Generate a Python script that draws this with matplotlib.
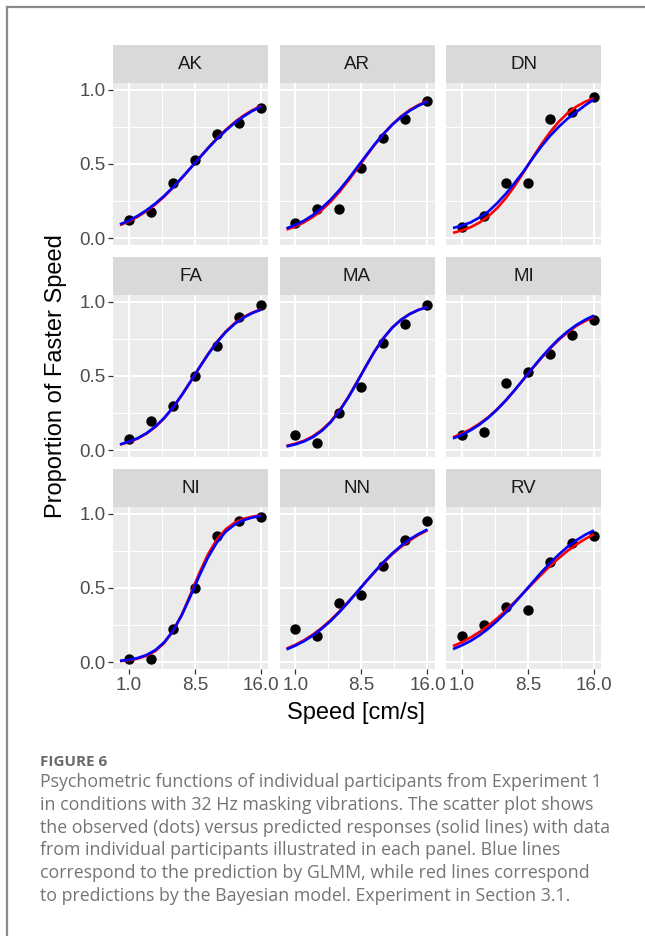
import numpy as np
import matplotlib
matplotlib.use("Agg")
import matplotlib.pyplot as plt
from matplotlib.lines import Line2D

# --- data ---
participants = ["AK", "AR", "DN", "FA", "MA", "MI", "NI", "NN", "RV"]
speeds = [1.0, 3.5, 6.0, 8.5, 11.0, 13.5, 16.0]
curve_speeds = [0, 1, 2, 3, 4, 5, 6, 7, 8, 9, 10, 11, 12, 13, 14, 15, 16]

observed = [
    [0.125, 0.175, 0.375, 0.525, 0.700, 0.775, 0.875],  # AK
    [0.100, 0.200, 0.200, 0.475, 0.675, 0.800, 0.925],  # AR
    [0.075, 0.150, 0.375, 0.375, 0.800, 0.850, 0.950],  # DN
    [0.075, 0.200, 0.300, 0.500, 0.700, 0.900, 0.975],  # FA
    [0.100, 0.050, 0.250, 0.425, 0.725, 0.850, 0.975],  # MA
    [0.100, 0.125, 0.450, 0.525, 0.650, 0.775, 0.875],  # MI
    [0.025, 0.025, 0.225, 0.500, 0.850, 0.950, 0.975],  # NI
    [0.225, 0.175, 0.400, 0.450, 0.650, 0.825, 0.950],  # NN
    [0.175, 0.250, 0.375, 0.350, 0.675, 0.800, 0.850],  # RV
]

# GLMM prediction (blue)
glmm_pred = [
    [0.094, 0.119, 0.151, 0.189, 0.234, 0.285, 0.343, 0.407, 0.473, 0.540, 0.606, 0.669, 0.725, 0.776, 0.819, 0.856, 0.886],
    [0.067, 0.090, 0.119, 0.157, 0.204, 0.260, 0.325, 0.398, 0.476, 0.555, 0.632, 0.702, 0.764, 0.816, 0.859, 0.893, 0.920],
    [0.069, 0.086, 0.107, 0.140, 0.180, 0.236, 0.300, 0.373, 0.450, 0.535, 0.616, 0.688, 0.750, 0.805, 0.850, 0.895, 0.935],
    [0.040, 0.058, 0.082, 0.115, 0.160, 0.217, 0.288, 0.371, 0.462, 0.556, 0.646, 0.727, 0.795, 0.850, 0.892, 0.923, 0.946],
    [0.026, 0.040, 0.060, 0.089, 0.131, 0.188, 0.263, 0.354, 0.457, 0.564, 0.666, 0.754, 0.825, 0.878, 0.917, 0.945, 0.963],
    [0.080, 0.104, 0.135, 0.173, 0.219, 0.274, 0.336, 0.405, 0.478, 0.552, 0.623, 0.689, 0.749, 0.800, 0.843, 0.878, 0.907],
    [0.010, 0.017, 0.029, 0.049, 0.082, 0.134, 0.211, 0.316, 0.445, 0.582, 0.707, 0.807, 0.879, 0.926, 0.956, 0.974, 0.985],
    [0.087, 0.112, 0.143, 0.181, 0.226, 0.278, 0.338, 0.403, 0.472, 0.542, 0.610, 0.674, 0.733, 0.784, 0.828, 0.864, 0.894],
    [0.089, 0.114, 0.144, 0.182, 0.226, 0.278, 0.336, 0.400, 0.468, 0.536, 0.604, 0.667, 0.725, 0.777, 0.821, 0.858, 0.888],
]

# Bayesian model prediction (red)
bayes_pred = [
    [0.089, 0.114, 0.145, 0.183, 0.228, 0.280, 0.340, 0.404, 0.472, 0.541, 0.609, 0.673, 0.730, 0.781, 0.825, 0.861, 0.891],
    [0.059, 0.080, 0.108, 0.144, 0.190, 0.246, 0.312, 0.387, 0.467, 0.549, 0.629, 0.702, 0.766, 0.820, 0.864, 0.898, 0.925],
    [0.037, 0.053, 0.075, 0.106, 0.148, 0.203, 0.271, 0.352, 0.443, 0.538, 0.630, 0.713, 0.784, 0.842, 0.886, 0.919, 0.943],
    [0.038, 0.056, 0.079, 0.112, 0.157, 0.214, 0.286, 0.370, 0.462, 0.557, 0.648, 0.730, 0.799, 0.854, 0.896, 0.926, 0.949],
    [0.030, 0.045, 0.065, 0.095, 0.137, 0.193, 0.268, 0.357, 0.460, 0.565, 0.667, 0.755, 0.826, 0.879, 0.918, 0.946, 0.965],
    [0.088, 0.112, 0.142, 0.179, 0.223, 0.276, 0.337, 0.405, 0.477, 0.550, 0.619, 0.684, 0.743, 0.793, 0.837, 0.870, 0.898],
    [0.008, 0.014, 0.025, 0.044, 0.076, 0.129, 0.208, 0.320, 0.457, 0.600, 0.728, 0.827, 0.895, 0.939, 0.965, 0.980, 0.989],
    [0.092, 0.118, 0.149, 0.187, 0.232, 0.284, 0.342, 0.406, 0.473, 0.541, 0.607, 0.670, 0.727, 0.777, 0.821, 0.858, 0.888],
    [0.109, 0.135, 0.167, 0.204, 0.247, 0.295, 0.349, 0.406, 0.467, 0.528, 0.589, 0.647, 0.701, 0.750, 0.793, 0.830, 0.862],
]

x_ticks = [1.0, 8.5, 16.0]
x_ticklabels = ["1.0", "8.5", "16.0"]
y_ticks = [0.0, 0.5, 1.0]
y_ticklabels = ["0.0", "0.5", "1.0"]

caption_title = "FIGURE 6"
caption_lines = [
    "Psychometric functions of individual participants from Experiment 1",
    "in conditions with 32 Hz masking vibrations. The scatter plot shows",
    "the observed (dots) versus predicted responses (solid lines) with data",
    "from individual participants illustrated in each panel. Blue lines",
    "correspond to the prediction by GLMM, while red lines correspond",
    "to predictions by the Bayesian model. Experiment in Section 3.1.",
]

# --- layout (pixels) ---
W, H = 645, 936
plt.rcParams['font.family'] = ['Liberation Sans', 'DejaVu Sans']

fig = plt.figure(figsize=(W / 100, H / 100), dpi=100)
fig.patch.set_facecolor("white")


def rect(left, top, w, h):
    return [left / W, 1 - (top + h) / H, w / W, h / H]


col_left = [113, 279.5, 446]
panel_w = 155
strip_top = [45, 257, 469]
strip_h = 38
panel_h = 162

for i, name in enumerate(participants):
    r, c = divmod(i, 3)
    left = col_left[c]
    top = strip_top[r]

    # strip
    sax = fig.add_axes(rect(left, top, panel_w, strip_h))
    sax.set_facecolor("#D9D9D9")
    sax.set_xticks([])
    sax.set_yticks([])
    for sp in sax.spines.values():
        sp.set_visible(False)
    sax.text(0.5, 0.48, name, ha="center", va="center", fontsize=13.5,
             color="#1A1A1A", transform=sax.transAxes)

    # panel
    ax = fig.add_axes(rect(left, top + strip_h, panel_w, panel_h))
    ax.set_facecolor("#EBEBEB")
    for sp in ax.spines.values():
        sp.set_visible(False)
    ax.set_xlim(-0.8, 16.8)
    ax.set_ylim(-0.045, 1.045)
    ax.set_xticks(x_ticks)
    ax.set_xticks([4.75, 12.25], minor=True)
    ax.set_yticks(y_ticks)
    ax.set_yticks([0.25, 0.75], minor=True)
    ax.grid(which="major", color="white", linewidth=1.5)
    ax.grid(which="minor", color="white", linewidth=0.75)
    ax.set_axisbelow(True)
    ax.tick_params(which="minor", length=0)
    ax.tick_params(which="major", length=3.5, width=0.9, color="#333333",
                   labelcolor="#4D4D4D", labelsize=13.5, pad=2)

    if c == 0:
        ax.set_yticklabels(y_ticklabels)
    else:
        ax.tick_params(axis="y", which="major", length=0, labelleft=False)
    if r == 2:
        ax.set_xticklabels(x_ticklabels)
    else:
        ax.tick_params(axis="x", which="major", length=0, labelbottom=False)

    ax.scatter(speeds, observed[i], s=56, color="black", zorder=2,
               linewidths=0)
    ax.plot(curve_speeds, bayes_pred[i], color="#FF0000", lw=1.9, zorder=3,
            solid_capstyle="butt", solid_joinstyle="round")
    ax.plot(curve_speeds, glmm_pred[i], color="#0000FF", lw=1.9, zorder=4,
            solid_capstyle="butt", solid_joinstyle="round")

# axis titles
fig.text(356 / W, 1 - 713 / H, "Speed [cm/s]", ha="center", va="center",
         fontsize=17, color="black")
fig.text(56 / W, 1 - 376 / H, "Proportion of Faster Speed", ha="center",
         va="center", rotation=90, fontsize=17, color="black")

# caption
fig.text(40 / W, 1 - 766 / H, caption_title, ha="left", va="baseline",
         fontsize=11, fontweight="bold", color="#6A6A6A",
         family=["Open Sans", "DejaVu Sans"])
for k, line in enumerate(caption_lines):
    fig.text(40 / W, 1 - (787 + k * 22.8) / H, line, ha="left",
             va="baseline", fontsize=12.8, color="#747474",
             family=["Open Sans", "DejaVu Sans"])

# frame around figure
fig.add_artist(Line2D([6.5 / W, 6.5 / W], [0, 1 - 7 / H], color="#8A8A8A",
                      lw=1.6, transform=fig.transFigure))
fig.add_artist(Line2D([6.5 / W, 1], [1 - 7 / H, 1 - 7 / H], color="#8A8A8A",
                      lw=1.6, transform=fig.transFigure))

fig.savefig("out.png", dpi=100)
